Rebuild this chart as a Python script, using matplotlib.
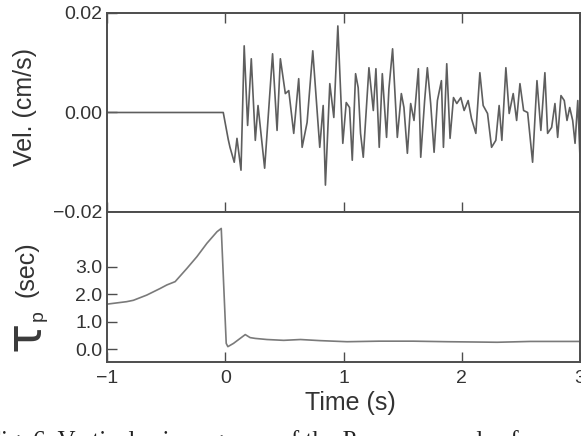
import matplotlib
matplotlib.use("Agg")
import matplotlib.pyplot as plt

plt.rcParams['font.family'] = ['Liberation Sans', 'DejaVu Sans']

# velocity trace (time in s, velocity in cm/s)
vel_t = [-1.0, -0.017, 0.025, 0.04, 0.076, 0.099, 0.133, 0.16, 0.189, 0.22, 0.254,
         0.277, 0.333, 0.40, 0.438, 0.466, 0.508, 0.537, 0.579, 0.621, 0.650, 0.692,
         0.740, 0.799, 0.828, 0.847, 0.884, 0.918, 0.952, 0.994, 1.023, 1.051, 1.074,
         1.102, 1.124, 1.144, 1.167, 1.215, 1.252, 1.274, 1.302, 1.328, 1.364, 1.384,
         1.415, 1.455, 1.489, 1.511, 1.540, 1.568, 1.596, 1.633, 1.653, 1.686, 1.709,
         1.737, 1.766, 1.794, 1.828, 1.845, 1.873, 1.901, 1.930, 1.958, 1.992, 2.020,
         2.054, 2.082, 2.119, 2.153, 2.181, 2.218, 2.252, 2.288, 2.316, 2.339, 2.373,
         2.401, 2.435, 2.464, 2.492, 2.523, 2.557, 2.599, 2.636, 2.669, 2.703, 2.726,
         2.760, 2.788, 2.811, 2.839, 2.867, 2.890, 2.913, 2.938, 2.958, 2.981, 3.003]
vel_v = [0.0, 0.0, -0.0054, -0.0070, -0.0100, -0.0052, -0.0116, 0.0134, -0.0026, 0.0108,
         -0.0056, 0.0014, -0.0112, 0.0118, -0.0036, 0.0108, 0.0038, 0.0044, -0.0042, 0.0068,
         -0.0070, -0.0020, 0.0124, -0.0070, 0.0014, -0.0146, 0.0058, -0.0010, 0.0174, -0.0062,
         0.0020, 0.0010, -0.0096, 0.0078, 0.0050, -0.0042, -0.0090, 0.0090, 0.0004, 0.0088,
         -0.0070, 0.0078, -0.0050, 0.0048, 0.0128, -0.0050, 0.0038, 0.0010, -0.0082, 0.0018,
         -0.0016, 0.0088, -0.0090, 0.0024, 0.0090, 0.0018, -0.0080, 0.0024, 0.0064, -0.0070,
         0.0098, -0.0052, 0.0030, 0.0018, 0.0030, 0.0004, 0.0024, -0.0012, -0.0042, 0.0080,
         0.0014, -0.0002, -0.0070, -0.0056, 0.0014, -0.0056, 0.0090, -0.0002, 0.0038, -0.0016,
         0.0058, 0.0004, 0.0000, -0.0100, 0.0064, -0.0036, 0.0080, -0.0042, -0.0030, 0.0018,
         -0.0050, 0.0034, 0.0024, -0.0016, 0.0010, -0.0016, -0.0062, 0.0024, -0.0110]

# tau_p (sec)
tau_t = [-1.0, -0.834, -0.777, -0.664, -0.551, -0.494, -0.424, -0.325, -0.240, -0.155,
         -0.070, -0.034, 0.008, 0.022, 0.07, 0.169, 0.21, 0.254, 0.353, 0.494, 0.636,
         0.80, 1.03, 1.30, 1.59, 1.88, 2.10, 2.30, 2.58, 3.0]
tau_v = [1.64, 1.73, 1.78, 1.97, 2.21, 2.34, 2.46, 2.94, 3.37, 3.86,
         4.28, 4.40, 0.21, 0.09, 0.21, 0.53, 0.42, 0.39, 0.35, 0.32, 0.35,
         0.31, 0.27, 0.29, 0.29, 0.27, 0.26, 0.25, 0.28, 0.28]

x_ticks = [-1, 0, 1, 2, 3]
vel_ticks = [-0.02, 0.0, 0.02]
tau_ticks = [0.0, 1.0, 2.0, 3.0]

spine_col = '#4d4d4d'

fig = plt.figure(figsize=(5.81, 4.36), dpi=100)
ax1 = fig.add_axes([0.1842, 0.5138, 0.8141, 0.4564])
ax2 = fig.add_axes([0.1842, 0.1697, 0.8141, 0.3441])

ax1.plot(vel_t, vel_v, color='#5e5e5e', lw=1.2)
ax2.plot(tau_t, tau_v, color='#7a7a7a', lw=1.2)

ax1.set_xlim(-1, 3)
ax1.set_ylim(-0.02, 0.02)
ax1.set_yticks(vel_ticks)
ax1.set_yticklabels(['\u22120.02', '0.00', '0.02'])
ax1.set_xticks(x_ticks)
ax1.tick_params(axis='x', direction='in', top=True, bottom=True, labelbottom=False,
                length=7, width=1, color=spine_col)
ax1.tick_params(axis='y', direction='in', left=True, right=False, length=7, width=1,
                color=spine_col, labelsize=14, labelcolor='#333333')

ax2.set_xlim(-1, 3)
ax2.set_ylim(-0.47, 5.0)
ax2.set_xticks(x_ticks)
ax2.set_xticklabels(['\u22121', '0', '1', '2', '3'])
ax2.set_yticks(tau_ticks)
ax2.set_yticklabels(['0.0', '1.0', '2.0', '3.0'])
ax2.tick_params(axis='x', direction='in', top=False, bottom=True, length=7, width=1,
                color=spine_col, labelsize=14, labelcolor='#333333', pad=6)
ax2.tick_params(axis='y', direction='in', left=True, right=False, length=7, width=1,
                color=spine_col, labelsize=14, labelcolor='#333333')

for ax in (ax1, ax2):
    for s in ax.spines.values():
        s.set_color(spine_col)
        s.set_linewidth(1.4)

fig.text(25 / 581, 1 - 107 / 436, 'Vel. (cm/s)', rotation=90, ha='center', va='center',
         fontsize=18, color='#333333')
fig.text(350 / 581, 1 - 403 / 436, 'Time (s)', ha='center', va='center',
         fontsize=18, color='#333333')
fig.text(26 / 581, 1 - 336 / 436, '\u03c4', rotation=90, ha='center', va='center',
         fontsize=36, color='#3a3a3a', family='DejaVu Sans')
fig.text(38 / 581, 1 - 316 / 436, 'p', rotation=90, ha='center', va='center',
         fontsize=14, color='#333333')
fig.text(26 / 581, 1 - 269 / 436, '(sec)', rotation=90, ha='center', va='center',
         fontsize=18, color='#333333')

fig.text(-0.022, 1 - 430 / 436, 'Fig. 6. Vertical seismograms of the P-wave samples for',
         ha='left', va='top', fontsize=18, family='Liberation Serif', color='#222222')

fig.savefig('out.png', dpi=100)
